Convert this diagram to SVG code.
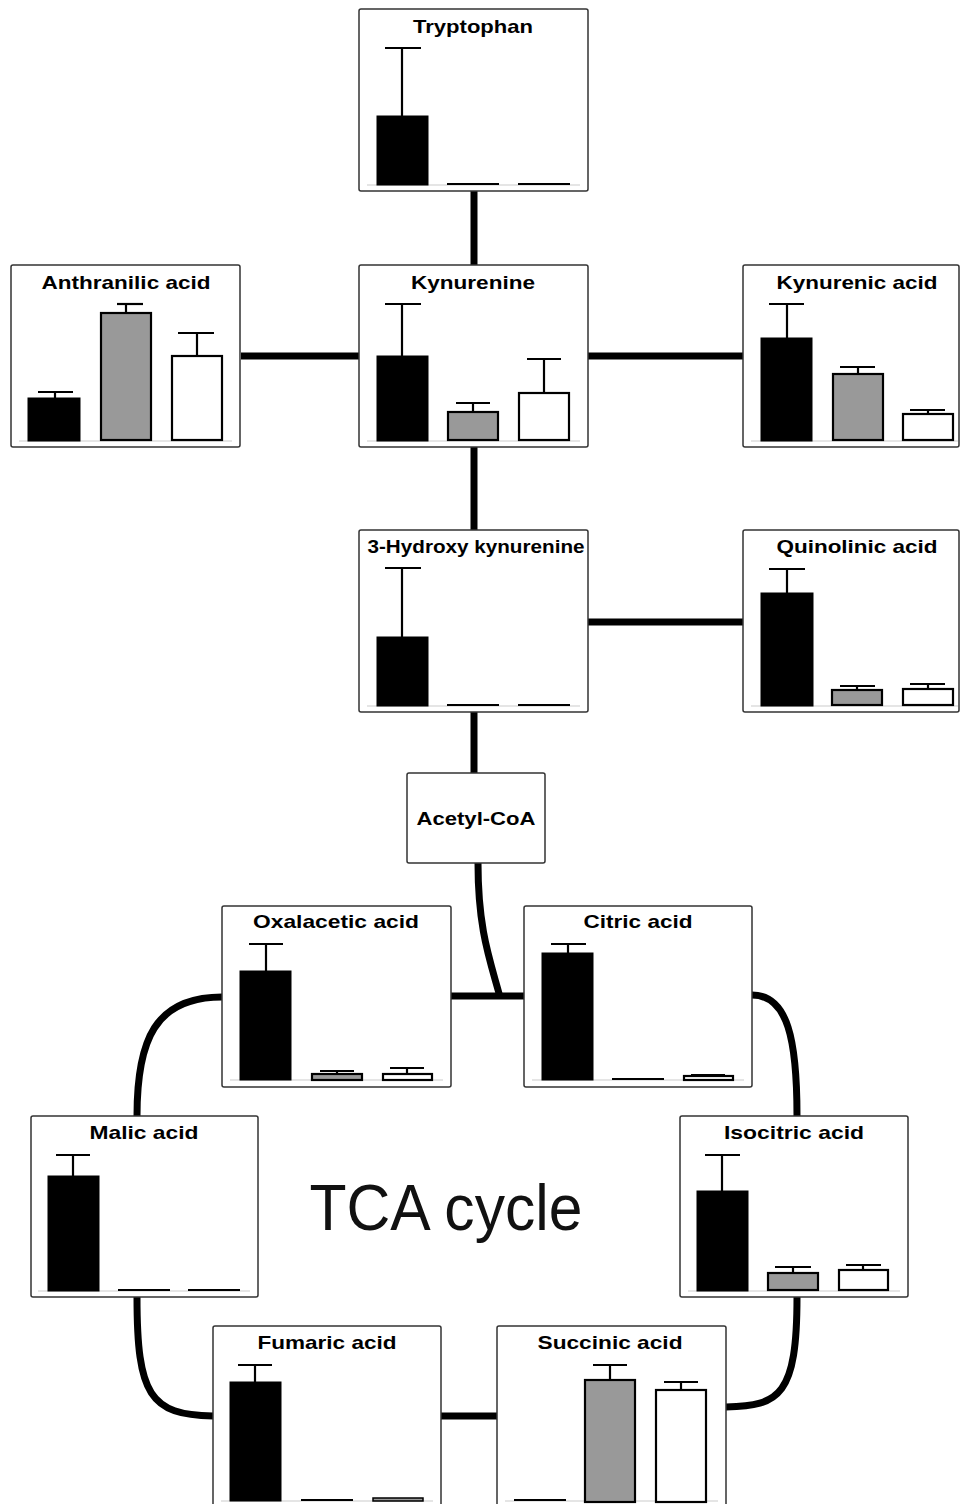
<svg xmlns="http://www.w3.org/2000/svg" width="960" height="1504" viewBox="0 0 960 1504">
<style>
.box{fill:#fff;stroke:#333;stroke-width:1.5}
.t{font-family:"Liberation Sans",Arial,sans-serif;font-weight:bold;font-size:19px;text-anchor:middle;fill:#000}
.bk{fill:#000;stroke:#000;stroke-width:1}
.gr{fill:#999;stroke:#000;stroke-width:2.2}
.wh{fill:#fff;stroke:#000;stroke-width:2.2}
.e{stroke:#000;stroke-width:2.2;fill:none}
.z{stroke:#000;stroke-width:2}
.base{stroke:#ddd;stroke-width:1.5}
.conn{stroke:#000;stroke-width:7;fill:none}
</style>
<rect width="960" height="1504" fill="#fff"/>
<g id="connectors">
<line class="conn" x1="474" y1="191" x2="474" y2="265"/>
<line class="conn" x1="474" y1="447" x2="474" y2="530"/>
<line class="conn" x1="474" y1="712" x2="474" y2="773"/>
<line class="conn" x1="241" y1="356" x2="359" y2="356"/>
<line class="conn" x1="588" y1="356" x2="743" y2="356"/>
<line class="conn" x1="588" y1="622" x2="743" y2="622"/>
<path class="conn" d="M478 863 C478 930 490 960 500 997"/>
<line class="conn" x1="451" y1="996" x2="524" y2="996"/>
<path class="conn" d="M222 997 C155 997 137 1040 137 1116"/>
<path class="conn" d="M752 995 C788 995 797 1040 797 1116"/>
<path class="conn" d="M137 1297 C137 1395 150 1415 213 1416"/>
<path class="conn" d="M797 1297 C797 1395 780 1406 726 1407"/>
<line class="conn" x1="441" y1="1416" x2="497" y2="1416"/>
</g>
<g id="tryptophan">
<rect class="box" x="359" y="9" width="229" height="182" rx="2"/>
<text class="t" x="473" y="33" textLength="120" lengthAdjust="spacingAndGlyphs">Tryptophan</text>
<line class="base" x1="367" y1="185" x2="580" y2="185"/>
<line class="e" x1="402" y1="116" x2="402" y2="48"/><line class="e" x1="385" y1="48" x2="421" y2="48"/>
<rect class="bk" x="377" y="116" width="51" height="69"/>
<line class="z" x1="447" y1="184" x2="499" y2="184"/>
<line class="z" x1="518" y1="184" x2="570" y2="184"/>
</g>
<g id="anthranilic">
<rect class="box" x="11" y="265" width="229" height="182" rx="2"/>
<text class="t" x="126" y="289" textLength="169" lengthAdjust="spacingAndGlyphs">Anthranilic acid</text>
<line class="base" x1="19" y1="441" x2="232" y2="441"/>
<line class="e" x1="55" y1="398" x2="55" y2="392"/><line class="e" x1="38" y1="392" x2="73" y2="392"/>
<rect class="bk" x="28" y="398" width="52" height="43"/>
<line class="e" x1="126" y1="313" x2="126" y2="304"/><line class="e" x1="117" y1="304" x2="143" y2="304"/>
<rect class="gr" x="101" y="313" width="50" height="127"/>
<line class="e" x1="197" y1="356" x2="197" y2="333"/><line class="e" x1="178" y1="333" x2="214" y2="333"/>
<rect class="wh" x="172" y="356" width="50" height="84"/>
</g>
<g id="kynurenine">
<rect class="box" x="359" y="265" width="229" height="182" rx="2"/>
<text class="t" x="473" y="289" textLength="124" lengthAdjust="spacingAndGlyphs">Kynurenine</text>
<line class="base" x1="367" y1="441" x2="580" y2="441"/>
<line class="e" x1="402" y1="356" x2="402" y2="304"/><line class="e" x1="385" y1="304" x2="421" y2="304"/>
<rect class="bk" x="377" y="356" width="51" height="85"/>
<line class="e" x1="473" y1="412" x2="473" y2="403"/><line class="e" x1="456" y1="403" x2="490" y2="403"/>
<rect class="gr" x="448" y="412" width="50" height="28"/>
<line class="e" x1="544" y1="393" x2="544" y2="359"/><line class="e" x1="527" y1="359" x2="561" y2="359"/>
<rect class="wh" x="519" y="393" width="50" height="47"/>
</g>
<g id="kynurenic">
<rect class="box" x="743" y="265" width="216" height="182" rx="2"/>
<text class="t" x="857" y="289" textLength="161" lengthAdjust="spacingAndGlyphs">Kynurenic acid</text>
<line class="base" x1="751" y1="441" x2="958" y2="441"/>
<line class="e" x1="787" y1="338" x2="787" y2="304"/><line class="e" x1="769" y1="304" x2="804" y2="304"/>
<rect class="bk" x="761" y="338" width="51" height="103"/>
<line class="e" x1="858" y1="374" x2="858" y2="367"/><line class="e" x1="840" y1="367" x2="875" y2="367"/>
<rect class="gr" x="833" y="374" width="50" height="66"/>
<line class="e" x1="928" y1="414" x2="928" y2="410"/><line class="e" x1="910" y1="410" x2="945" y2="410"/>
<rect class="wh" x="903" y="414" width="50" height="26"/>
</g>
<g id="hydroxykynurenine">
<rect class="box" x="359" y="530" width="229" height="182" rx="2"/>
<text class="t" x="476" y="553" textLength="217" lengthAdjust="spacingAndGlyphs">3-Hydroxy kynurenine</text>
<line class="base" x1="367" y1="706" x2="580" y2="706"/>
<line class="e" x1="402" y1="637" x2="402" y2="568"/><line class="e" x1="385" y1="568" x2="421" y2="568"/>
<rect class="bk" x="377" y="637" width="51" height="69"/>
<line class="z" x1="447" y1="705" x2="499" y2="705"/>
<line class="z" x1="518" y1="705" x2="570" y2="705"/>
</g>
<g id="quinolinic">
<rect class="box" x="743" y="530" width="216" height="182" rx="2"/>
<text class="t" x="857" y="553" textLength="161" lengthAdjust="spacingAndGlyphs">Quinolinic acid</text>
<line class="base" x1="751" y1="706" x2="958" y2="706"/>
<line class="e" x1="787" y1="593" x2="787" y2="569"/><line class="e" x1="769" y1="569" x2="805" y2="569"/>
<rect class="bk" x="761" y="593" width="52" height="113"/>
<line class="e" x1="857" y1="690" x2="857" y2="686"/><line class="e" x1="840" y1="686" x2="875" y2="686"/>
<rect class="gr" x="832" y="690" width="50" height="15"/>
<line class="e" x1="928" y1="689" x2="928" y2="684"/><line class="e" x1="910" y1="684" x2="945" y2="684"/>
<rect class="wh" x="903" y="689" width="50" height="16"/>
</g>
<g id="acetylcoa">
<rect class="box" x="407" y="773" width="138" height="90" rx="2"/>
<text class="t" x="476" y="825" textLength="119" lengthAdjust="spacingAndGlyphs">Acetyl-CoA</text>
</g>
<g id="oxalacetic">
<rect class="box" x="222" y="906" width="229" height="181" rx="2"/>
<text class="t" x="336" y="928" textLength="166" lengthAdjust="spacingAndGlyphs">Oxalacetic acid</text>
<line class="base" x1="230" y1="1080" x2="443" y2="1080"/>
<line class="e" x1="266" y1="971" x2="266" y2="944"/><line class="e" x1="249" y1="944" x2="283" y2="944"/>
<rect class="bk" x="240" y="971" width="51" height="109"/>
<line class="e" x1="337" y1="1074" x2="337" y2="1071"/><line class="e" x1="320" y1="1071" x2="354" y2="1071"/>
<rect class="gr" x="312" y="1074" width="50" height="6"/>
<line class="e" x1="407" y1="1074" x2="407" y2="1068"/><line class="e" x1="390" y1="1068" x2="424" y2="1068"/>
<rect class="wh" x="383" y="1074" width="49" height="6"/>
</g>
<g id="citric">
<rect class="box" x="524" y="906" width="228" height="181" rx="2"/>
<text class="t" x="638" y="928" textLength="109" lengthAdjust="spacingAndGlyphs">Citric acid</text>
<line class="base" x1="532" y1="1080" x2="744" y2="1080"/>
<line class="e" x1="568" y1="953" x2="568" y2="944"/><line class="e" x1="551" y1="944" x2="586" y2="944"/>
<rect class="bk" x="542" y="953" width="51" height="127"/>
<line class="z" x1="612" y1="1079" x2="664" y2="1079"/>
<line class="e" x1="691" y1="1075" x2="725" y2="1075"/>
<rect class="wh" x="684" y="1076" width="49" height="4"/>
</g>
<g id="malic">
<rect class="box" x="31" y="1116" width="227" height="181" rx="2"/>
<text class="t" x="144" y="1139" textLength="109" lengthAdjust="spacingAndGlyphs">Malic acid</text>
<line class="base" x1="38" y1="1291" x2="250" y2="1291"/>
<line class="e" x1="73" y1="1176" x2="73" y2="1155"/><line class="e" x1="56" y1="1155" x2="90" y2="1155"/>
<rect class="bk" x="48" y="1176" width="51" height="115"/>
<line class="z" x1="118" y1="1290" x2="170" y2="1290"/>
<line class="z" x1="188" y1="1290" x2="240" y2="1290"/>
</g>
<g id="isocitric">
<rect class="box" x="680" y="1116" width="228" height="181" rx="2"/>
<text class="t" x="794" y="1139" textLength="140" lengthAdjust="spacingAndGlyphs">Isocitric acid</text>
<line class="base" x1="688" y1="1291" x2="900" y2="1291"/>
<line class="e" x1="722" y1="1191" x2="722" y2="1155"/><line class="e" x1="705" y1="1155" x2="740" y2="1155"/>
<rect class="bk" x="697" y="1191" width="51" height="100"/>
<line class="e" x1="793" y1="1273" x2="793" y2="1267"/><line class="e" x1="775" y1="1267" x2="811" y2="1267"/>
<rect class="gr" x="768" y="1273" width="50" height="17"/>
<line class="e" x1="863" y1="1270" x2="863" y2="1265"/><line class="e" x1="846" y1="1265" x2="881" y2="1265"/>
<rect class="wh" x="839" y="1270" width="49" height="20"/>
</g>
<g id="fumaric">
<rect class="box" x="213" y="1326" width="228" height="181" rx="2"/>
<text class="t" x="327" y="1349" textLength="139" lengthAdjust="spacingAndGlyphs">Fumaric acid</text>
<line class="base" x1="221" y1="1501" x2="433" y2="1501"/>
<line class="e" x1="255" y1="1382" x2="255" y2="1365"/><line class="e" x1="238" y1="1365" x2="272" y2="1365"/>
<rect class="bk" x="230" y="1382" width="51" height="119"/>
<line class="z" x1="301" y1="1500" x2="353" y2="1500"/>
<rect x="373" y="1498" width="50" height="3" fill="#999" stroke="#000" stroke-width="1.5"/>
</g>
<g id="succinic">
<rect class="box" x="497" y="1326" width="229" height="181" rx="2"/>
<text class="t" x="610" y="1349" textLength="145" lengthAdjust="spacingAndGlyphs">Succinic acid</text>
<line class="base" x1="505" y1="1501" x2="718" y2="1501"/>
<line class="z" x1="514" y1="1500" x2="566" y2="1500"/>
<line class="e" x1="610" y1="1380" x2="610" y2="1365"/><line class="e" x1="593" y1="1365" x2="627" y2="1365"/>
<rect class="gr" x="585" y="1380" width="50" height="122"/>
<line class="e" x1="681" y1="1390" x2="681" y2="1382"/><line class="e" x1="664" y1="1382" x2="698" y2="1382"/>
<rect class="wh" x="656" y="1390" width="50" height="112"/>
</g>
<text x="446" y="1230" font-family="Liberation Sans, Arial, sans-serif" font-size="64" text-anchor="middle" fill="#111" textLength="273" lengthAdjust="spacingAndGlyphs">TCA cycle</text>
</svg>
